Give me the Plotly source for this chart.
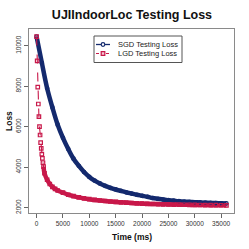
import plotly.graph_objects as go

# ---- data ----
sgd_time = [0, 1000, 2000, 3000, 4000, 5000, 6000, 7000, 8000, 9000, 10000,
            11000, 12000, 13000, 14000, 15000, 16000, 17000, 18000, 19000, 20000,
            21000, 22000, 23000, 24000, 25000, 26000, 27000, 28000, 29000, 30000,
            31000, 32000, 33000, 34000, 35000, 36000]
sgd_loss = [10450, 9150, 7900, 6950, 6100, 5450, 4900, 4420, 4070, 3760, 3520,
            3340, 3200, 3080, 2980, 2900, 2830, 2760, 2700, 2640, 2590,
            2540, 2480, 2440, 2400, 2370, 2345, 2320, 2300, 2285, 2270,
            2258, 2247, 2237, 2228, 2220, 2213]

lgd_time = [0, 110, 220, 330, 440, 550, 660, 770, 880, 990, 1100, 1210, 1320,
            1500, 2000, 2500, 3000, 3500, 4000, 5000, 6000, 7000, 8000, 9000,
            10000, 11000, 12000, 13000, 14000, 15000, 16000, 17000, 18000, 19000,
            20000, 21000, 22000, 23000, 24000, 25000, 26000, 27000, 28000, 29000,
            30000, 31000, 32000, 33000, 34000, 35000, 36000]
lgd_loss = [10450, 9250, 7950, 7120, 6500, 6000, 5590, 5210, 4930, 4650, 4440, 4220, 4030,
            3700, 3380, 3170, 3030, 2930, 2850, 2740, 2640, 2570, 2510, 2460,
            2420, 2385, 2355, 2330, 2305, 2285, 2265, 2248, 2232, 2218,
            2205, 2193, 2183, 2175, 2168, 2161, 2155, 2150, 2145, 2140,
            2136, 2132, 2129, 2126, 2123, 2121, 2119]

series_names = ["SGD Testing Loss", "LGD Testing Loss"]
x_ticks = [0, 5000, 10000, 15000, 20000, 25000, 30000, 35000]
y_ticks = [2000, 4000, 6000, 8000, 10000]

SGD_COLOR = "#142A6E"
LGD_COLOR = "#C8184A"
FONT = "Liberation Sans, Arial"
dense_start = 12  # LGD points become dense after this index

# plot area in pixels (for layout placement of legend/labels)
W, H = 249, 249
L, R, T, B = 29, 234, 29, 213


def px(x):
    return (x - L) / (R - L)


def py(y):
    return (B - y) / (B - T)


fig = go.Figure()

# thick bands formed by the dense markers
fig.add_trace(go.Scatter(x=sgd_time, y=sgd_loss, mode="lines",
                         line=dict(color=SGD_COLOR, width=4.5, shape="spline"),
                         showlegend=False, hoverinfo="skip"))
fig.add_trace(go.Scatter(x=lgd_time[dense_start:], y=lgd_loss[dense_start:], mode="lines",
                         line=dict(color=LGD_COLOR, width=4.5, shape="spline"),
                         showlegend=False, hoverinfo="skip"))

fig.add_trace(go.Scatter(x=sgd_time, y=sgd_loss, mode="lines+markers",
                         name=series_names[0], showlegend=False,
                         line=dict(color=SGD_COLOR, width=1.2),
                         marker=dict(symbol="circle-open", size=3.5, color=SGD_COLOR,
                                     line=dict(width=1.2))))
fig.add_trace(go.Scatter(x=lgd_time, y=lgd_loss, mode="lines+markers",
                         name=series_names[1], showlegend=False,
                         line=dict(color=LGD_COLOR, width=1.1, dash="dash"),
                         marker=dict(symbol="square-open", size=3.5, color=LGD_COLOR,
                                     line=dict(width=1.2))))

axis_common = dict(showgrid=False, zeroline=False, showline=True, mirror=True,
                   linecolor="#8a8a8a", linewidth=1, ticks="outside", ticklen=4,
                   tickcolor="#666666", tickwidth=1, automargin=False,
                   tickfont=dict(family=FONT, size=6.5, color="#333333"))

# ---- hand-built legend box (R style) ----
leg_l, leg_r, leg_t, leg_b = 94, 182, 36, 62.5
rows = [44.5, 53.5]
sym_x0, sym_x1, sym_xm = 96, 110, 103
shapes = [
    dict(type="rect", xref="paper", yref="paper",
         x0=px(leg_l), x1=px(leg_r), y0=py(leg_b), y1=py(leg_t),
         line=dict(color="#555555", width=1), fillcolor="white", layer="above"),
    dict(type="line", xref="paper", yref="paper",
         x0=px(sym_x0), x1=px(sym_x1), y0=py(rows[0]), y1=py(rows[0]),
         line=dict(color=SGD_COLOR, width=1.3), layer="above"),
    dict(type="circle", xref="paper", yref="paper",
         x0=px(sym_xm - 1.8), x1=px(sym_xm + 1.8), y0=py(rows[0] + 1.8), y1=py(rows[0] - 1.8),
         line=dict(color=SGD_COLOR, width=1.2), fillcolor="white", layer="above"),
    dict(type="line", xref="paper", yref="paper",
         x0=px(sym_x0), x1=px(sym_x1), y0=py(rows[1]), y1=py(rows[1]),
         line=dict(color=LGD_COLOR, width=1.2, dash="3px,2px"), layer="above"),
    dict(type="rect", xref="paper", yref="paper",
         x0=px(sym_xm - 1.8), x1=px(sym_xm + 1.8), y0=py(rows[1] + 1.8), y1=py(rows[1] - 1.8),
         line=dict(color=LGD_COLOR, width=1.2), fillcolor="#f4c6d2", layer="above"),
]

annotations = [
    dict(text="<b>Time (ms)</b>", xref="paper", yref="paper", x=px((L + R) / 2), y=py(237),
         xanchor="center", yanchor="middle", showarrow=False,
         font=dict(family=FONT, size=8.5, color="#111111")),
    dict(text="<b>Loss</b>", xref="paper", yref="paper", x=px(9), y=0.5,
         xanchor="center", yanchor="middle", showarrow=False, textangle=-90,
         font=dict(family=FONT, size=8.5, color="#111111")),
]
for name, ry in zip(series_names, rows):
    annotations.append(dict(text=name, xref="paper", yref="paper", x=px(116), y=py(ry),
                            xanchor="left", yanchor="middle", showarrow=False,
                            font=dict(family=FONT, size=7.5, color="#222222")))

fig.update_layout(
    width=W, height=H,
    margin=dict(l=L, r=W - R, t=T, b=H - B),
    paper_bgcolor="white", plot_bgcolor="white",
    hovermode=False,
    title=dict(text="<b>UJIIndoorLoc Testing Loss</b>",
               font=dict(family=FONT, size=12.5, color="#111111"),
               x=0.53, xanchor="center", y=1 - 15 / H, yanchor="middle",
               yref="container"),
    xaxis=dict(range=[-1440, 37440], tickvals=x_ticks,
               ticktext=[str(v) for v in x_ticks], **axis_common),
    yaxis=dict(range=[1738, 10825], tickvals=y_ticks,
               ticktext=[str(v) for v in y_ticks], tickangle=-90, **axis_common),
    showlegend=False,
    shapes=shapes,
    annotations=annotations,
)

fig.write_html("out.html",
               config={"displayModeBar": False, "staticPlot": True},
               post_script="document.body.style.margin='0px';document.body.style.overflow='hidden';")
